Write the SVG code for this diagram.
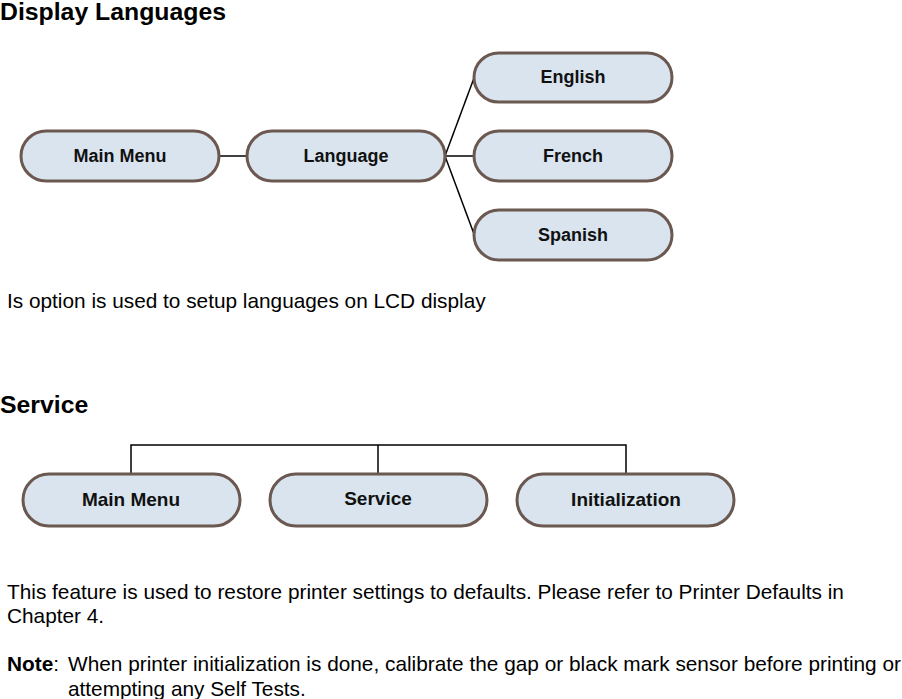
<svg xmlns="http://www.w3.org/2000/svg" width="902" height="699" viewBox="0 0 902 699">
<style>
.n{fill:#d9e4ef;stroke:#6b5850;stroke-width:3}
.t{font-family:"Liberation Sans",Arial,sans-serif;font-weight:bold;font-size:18px;fill:#111;text-anchor:middle}
.h{font-family:"Liberation Sans",Arial,sans-serif;font-weight:bold;font-size:24.8px;fill:#000}
.p{font-family:"Liberation Sans",Arial,sans-serif;font-size:20.8px;fill:#000}
.c{stroke:#000;stroke-width:1.5;fill:none}
</style>
<rect width="902" height="699" fill="#fff"/>
<text class="h" x="0" y="20">Display Languages</text>
<text class="h" x="0" y="413">Service</text>
<g id="connectors">
<line class="c" x1="219" y1="156" x2="248" y2="156"/>
<line class="c" x1="445" y1="156" x2="474" y2="156"/>
<line class="c" x1="445" y1="156" x2="474" y2="78"/>
<line class="c" x1="445" y1="156" x2="474" y2="234"/>
<polyline class="c" stroke-width="1" points="131,473 131,445 626,445 626,473"/>
<line class="c" stroke-width="1" x1="378" y1="445" x2="378" y2="474"/>
</g>
<g id="mm1"><rect class="n" x="21" y="131" width="198" height="50" rx="25"/><text class="t" x="120" y="162">Main Menu</text></g>
<g id="lang"><rect class="n" x="247" y="131" width="198" height="50" rx="25"/><text class="t" x="346" y="162">Language</text></g>
<g id="en"><rect class="n" x="474" y="53" width="198" height="49" rx="24.5"/><text class="t" x="573" y="83">English</text></g>
<g id="fr"><rect class="n" x="474" y="131" width="198" height="50" rx="25"/><text class="t" x="573" y="162">French</text></g>
<g id="es"><rect class="n" x="474" y="210" width="198" height="50" rx="25"/><text class="t" x="573" y="241">Spanish</text></g>
<g id="mm2"><rect class="n" x="23" y="474" width="217" height="52" rx="26"/><text class="t" style="font-size:19px" x="131" y="506">Main Menu</text></g>
<g id="svc"><rect class="n" x="270" y="474" width="217" height="52" rx="26"/><text class="t" style="font-size:19px" x="378" y="505">Service</text></g>
<g id="init"><rect class="n" x="517" y="474" width="217" height="52" rx="26"/><text class="t" style="font-size:19px" x="626" y="506">Initialization</text></g>
<text class="p" x="7" y="308">Is option is used to setup languages on LCD display</text>
<text class="p" x="7" y="599">This feature is used to restore printer settings to defaults. Please refer to Printer Defaults in</text>
<text class="p" x="7" y="623">Chapter 4.</text>
<text class="p" x="7" y="671"><tspan font-weight="bold">Note</tspan>:</text>
<text class="p" x="68" y="671" textLength="833" lengthAdjust="spacingAndGlyphs">When printer initialization is done, calibrate the gap or black mark sensor before printing or</text>
<text class="p" x="68" y="696">attempting any Self Tests.</text>
</svg>
